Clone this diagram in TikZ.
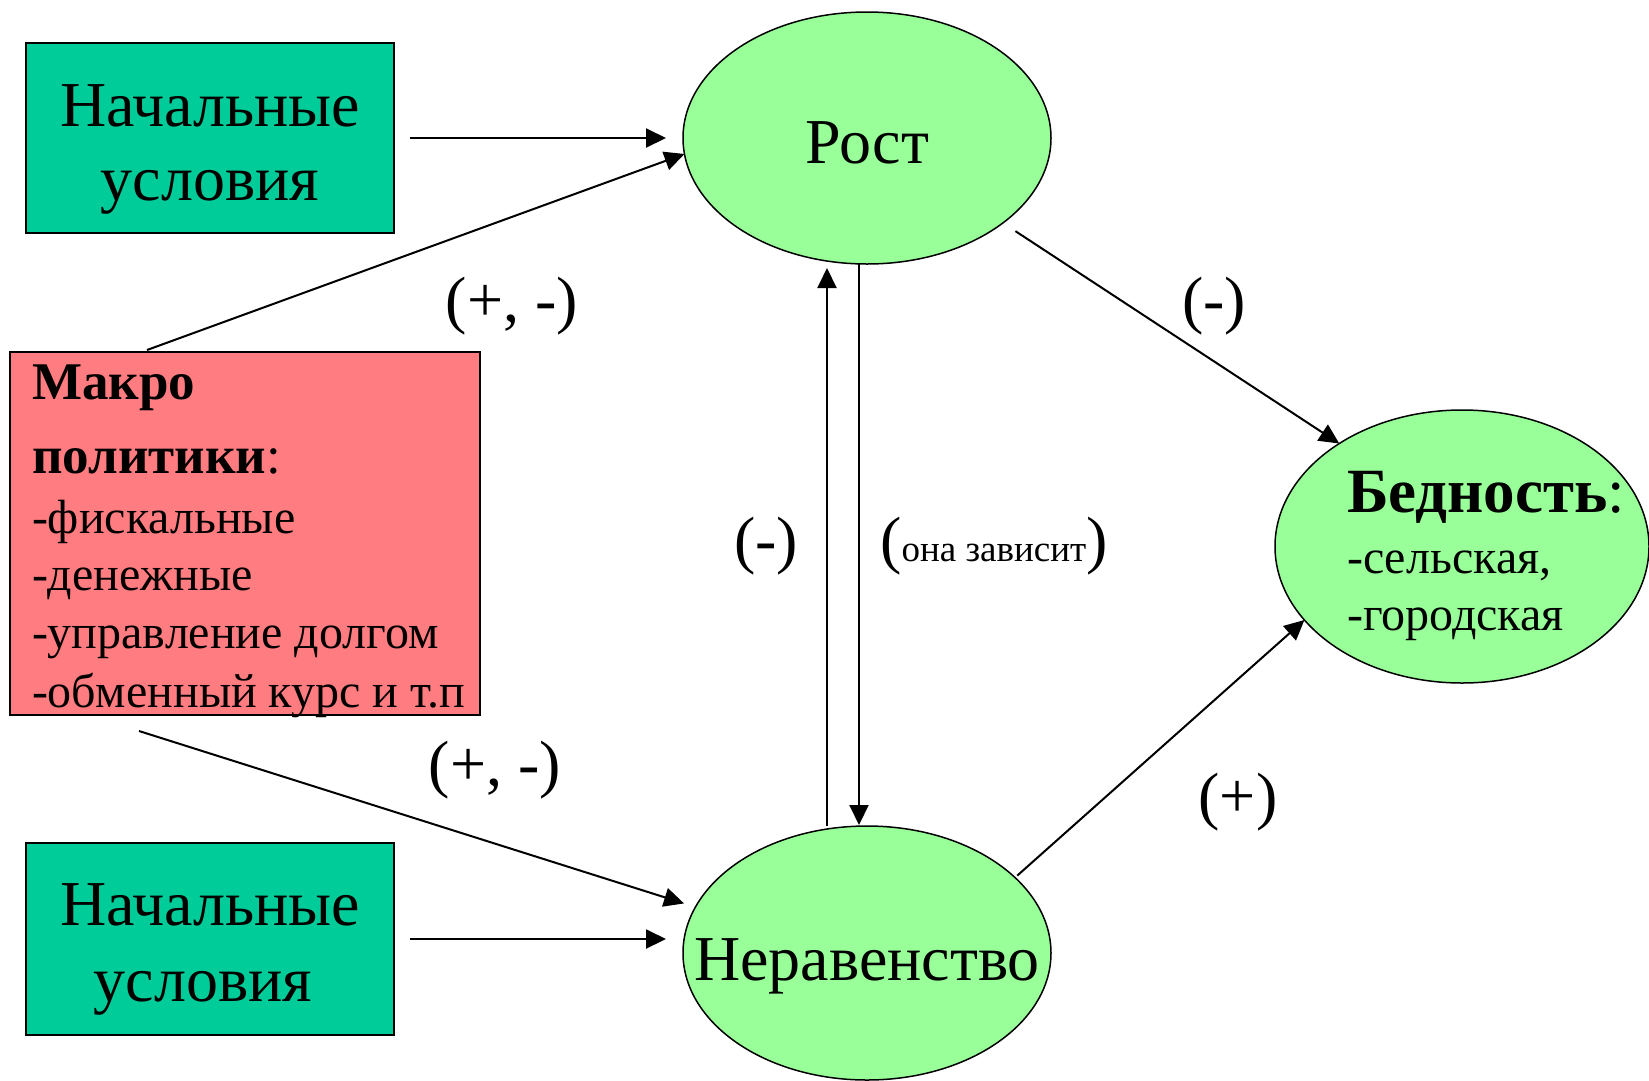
\documentclass[tikz,border=0pt]{standalone}
\usepackage{fontspec}
\IfFontExistsTF{LiberationSerif-Regular.ttf}
  {\setmainfont{LiberationSerif-Regular.ttf}[BoldFont=LiberationSerif-Bold.ttf]}
  {\setmainfont{Liberation Serif}}
\usetikzlibrary{arrows.meta,shapes.geometric}
\definecolor{tealbox}{HTML}{00CC99}
\definecolor{pinkbox}{HTML}{FF7C80}
\definecolor{lgreen}{HTML}{99FF99}
\newcommand{\fsz}[1]{\fontsize{#1}{#1}\selectfont}
\begin{document}
\begin{tikzpicture}[x=1pt,y=-1pt,
  box/.style={draw=black, line width=1.5pt, inner sep=0pt, outer sep=0pt, anchor=north west},
  oval/.style={ellipse, draw=black, line width=1.5pt, fill=lgreen, inner sep=0pt, outer sep=0pt},
  txt/.style={anchor=base, inner sep=0pt, outer sep=0pt},
  ltxt/.style={anchor=base west, inner sep=0pt, outer sep=0pt},
  arr/.style={line width=2pt, -{Triangle[length=20pt,width=19pt]}},
  ln/.style={line width=2pt}]
\useasboundingbox (0,0) rectangle (1649,1080);
\fill[white] (0,0) rectangle (1649,1080);
% boxes
\node[box, fill=tealbox, minimum width=368pt, minimum height=190pt] (ic1) at (26,43) {};
\node[box, fill=tealbox, minimum width=368pt, minimum height=192pt] (ic2) at (26,843) {};
\node[box, fill=pinkbox, minimum width=470pt, minimum height=363pt] (pink) at (10,352) {};
% ellipses
\node[oval, minimum width=368pt, minimum height=252pt] (rost) at (867,138) {};
\node[oval, minimum width=368pt, minimum height=254pt] (ner) at (867,953) {};
\node[oval, minimum width=374pt, minimum height=273pt] (bed) at (1462,546.5) {};
% texts
\node[txt, font=\fsz{64}] (t1a) at (210,126) {Начальные};
\node[txt, font=\fsz{64}] (t1b) at (210,200) {условия};
\node[txt, font=\fsz{64}] (t2a) at (210,925) {Начальные};
\node[txt, font=\fsz{64}] (t2b) at (203,1001) {условия};
\node[txt, font=\fsz{64}] (trost) at (867,163) {Рост};
\node[txt, font=\fsz{64}] (tner) at (867,980) {Неравенство};
\node[ltxt, font=\fsz{53}] (p1) at (32,399) {\textbf{Макро}};
\node[ltxt, font=\fsz{53}] (p2) at (32,473) {\textbf{политики}:};
\node[ltxt, font=\fsz{48}] (p3) at (32,533) {-фискальные};
\node[ltxt, font=\fsz{48}] (p4) at (32,590) {-денежные};
\node[ltxt, font=\fsz{48}] (p5) at (32,648) {-управление долгом};
\node[ltxt, font=\fsz{48}] (p6) at (32,707) {-обменный курс и т.п};
\node[ltxt, font=\fsz{63}] (b1) at (1347,512) {\textbf{Бедность}:};
\node[ltxt, font=\fsz{48}] (b2) at (1347,573) {-сельская,};
\node[ltxt, font=\fsz{48}] (b3) at (1347,630) {-городская};
% labels
\node[txt, font=\fsz{64}] (l1) at (512,321) {(+, -)};
\node[txt, font=\fsz{64}] (l2) at (1214,321) {(-)};
\node[txt, font=\fsz{64}] (l3) at (766,561) {(-)};
\node[txt, font=\fsz{64}] (l4) at (994,561) {(\fsz{37}она зависит\fsz{64})};
\node[txt, font=\fsz{64}] (l5) at (495,785) {(+, -)};
\node[txt, font=\fsz{64}] (l6) at (1238,817) {(+)};
% connectors
\draw[arr, shorten <=16pt, shorten >=17pt] (ic1.east) -- (rost.west);
\draw[arr] ([xshift=137pt, yshift=2pt]pink.north west) -- (rost.185);
\draw[arr, shorten <=15pt] (rost.-32) -- (bed.140);
\draw[arr, shorten <=3pt] (ner.27) -- (bed.205);
\draw[arr, shorten >=4pt] ([xshift=-40pt]ner.north) -- ([xshift=-40pt]rost.south);
\draw[arr] ([xshift=-8pt]rost.south) -- ([xshift=-8pt, yshift=1pt]ner.north);
\draw[arr, shorten >=12pt] ([xshift=129pt, yshift=-16pt]pink.south west) -- (ner.165.7);
\draw[arr, shorten <=16pt, shorten >=17pt] (ic2.east) -- (ic2.east -| ner.west);
\end{tikzpicture}
\end{document}
